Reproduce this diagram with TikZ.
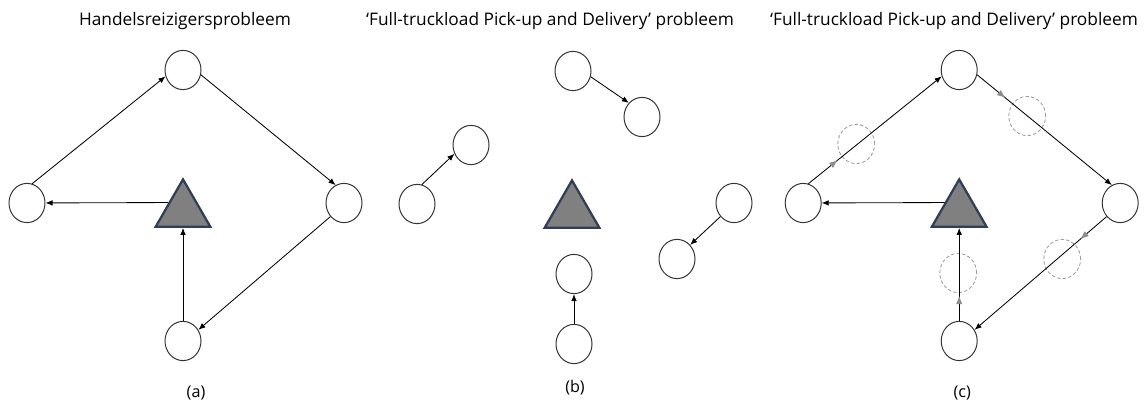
\documentclass[tikz,border=0pt]{standalone}
\usepackage{fontspec}
\setmainfont{Open Sans}
\usetikzlibrary{arrows.meta,decorations.markings,shapes.geometric}
\definecolor{depotgray}{RGB}{128,128,128}
\definecolor{depotrand}{RGB}{48,62,86}
\definecolor{leeggray}{RGB}{140,140,140}
\tikzset{
  stop/.style={ellipse,draw=black!80,line width=.7pt,minimum width=.9cm,minimum height=.98cm,inner sep=0pt},
  depot/.style={regular polygon,regular polygon sides=3,draw=depotrand,fill=depotgray,line width=1.6pt,minimum size=1.58cm,inner sep=0pt},
  leeg/.style={ellipse,draw=leeggray!85,dash pattern=on 2.4pt off 1.6pt,line width=.6pt,minimum width=.92cm,minimum height=.98cm,inner sep=0pt},
  rit/.style={-{Latex[length=5pt,width=4pt]},line width=.6pt},
  leegrit/.style={rit,decoration={markings,mark=at position #1 with {\arrow[leeggray]{Latex[length=6pt,width=4.6pt]}}},postaction={decorate}},
  titel/.style={font=\fontsize{12.3}{14}\selectfont},
}
% the four customers and the depot of one tour
\newcommand{\tourstops}[1]{%
  \node[stop] (#1top) at (183,70) {};
  \node[stop] (#1left) at (27,203) {};
  \node[stop] (#1right) at (344,203) {};
  \node[stop] (#1bot) at (183,341) {};
  \node[depot] (#1tri) at (183,211) {};
}

\begin{document}
\begin{tikzpicture}[x=.025cm,y=-.025cm,font=\fontsize{11.5}{13}\selectfont]
  \useasboundingbox (0,0) rectangle (1148,406);
  % (a)
  \node[titel] (atitel) at (185,21) {Handelsreizigersprobleem};
  \tourstops{a}
  \draw[rit] (aleft.75) -- (atop.200);
  \draw[rit] (atop.-15) -- (aright.115);
  \draw[rit] (aright.225) -- (abot.36);
  \draw[rit] (abot) -- (atri);
  \draw[rit] (atri.side 1) -- (aleft);
  \node (alabel) at (196,393) {(a)};
  % (b)
  \node[titel] (btitel) at (550,21) {‘Full-truckload Pick-up and Delivery’ probleem};
  \node[stop] (b1) at (573,71) {};
  \node[stop] (b2) at (642,117) {};
  \node[stop] (b3) at (417,204) {};
  \node[stop] (b4) at (471,145) {};
  \node[stop] (b5) at (734,203) {};
  \node[stop] (b6) at (677,259) {};
  \node[stop] (b7) at (574,344) {};
  \node[stop] (b8) at (574,274) {};
  \node[depot] (btri) at (572,212) {};
  \draw[rit] (b1.-18) -- (b2.133);
  \draw[rit] (b3.76) -- (b4.208);
  \draw[rit] (b5.225) -- (b6.47);
  \draw[rit] (b7) -- (b8);
  \node (blabel) at (575,388) {(b)};
  % (c)
  \node[titel] (ctitel) at (954,21) {‘Full-truckload Pick-up and Delivery’ probleem};
  \begin{scope}[xshift=19.4cm]
    \tourstops{c}
    \node[leeg] (cleeg1) at (80,144) {};
    \node[leeg] (cleeg2) at (251,116) {};
    \node[leeg] (cleeg3) at (286,259) {};
    \node[leeg] (cleeg4) at (182,273) {};
    \draw[leegrit=.22] (cleft.75) -- (ctop.200);
    \draw[leegrit=.21] (ctop.-15) -- (cright.115);
    \draw[leegrit=.2] (cright.225) -- (cbot.36);
    \draw[leegrit=.27] (cbot) -- (ctri);
    \draw[rit] (ctri.side 1) -- (cleft);
    \node (clabel) at (186,393) {(c)};
  \end{scope}
\end{tikzpicture}
\end{document}
